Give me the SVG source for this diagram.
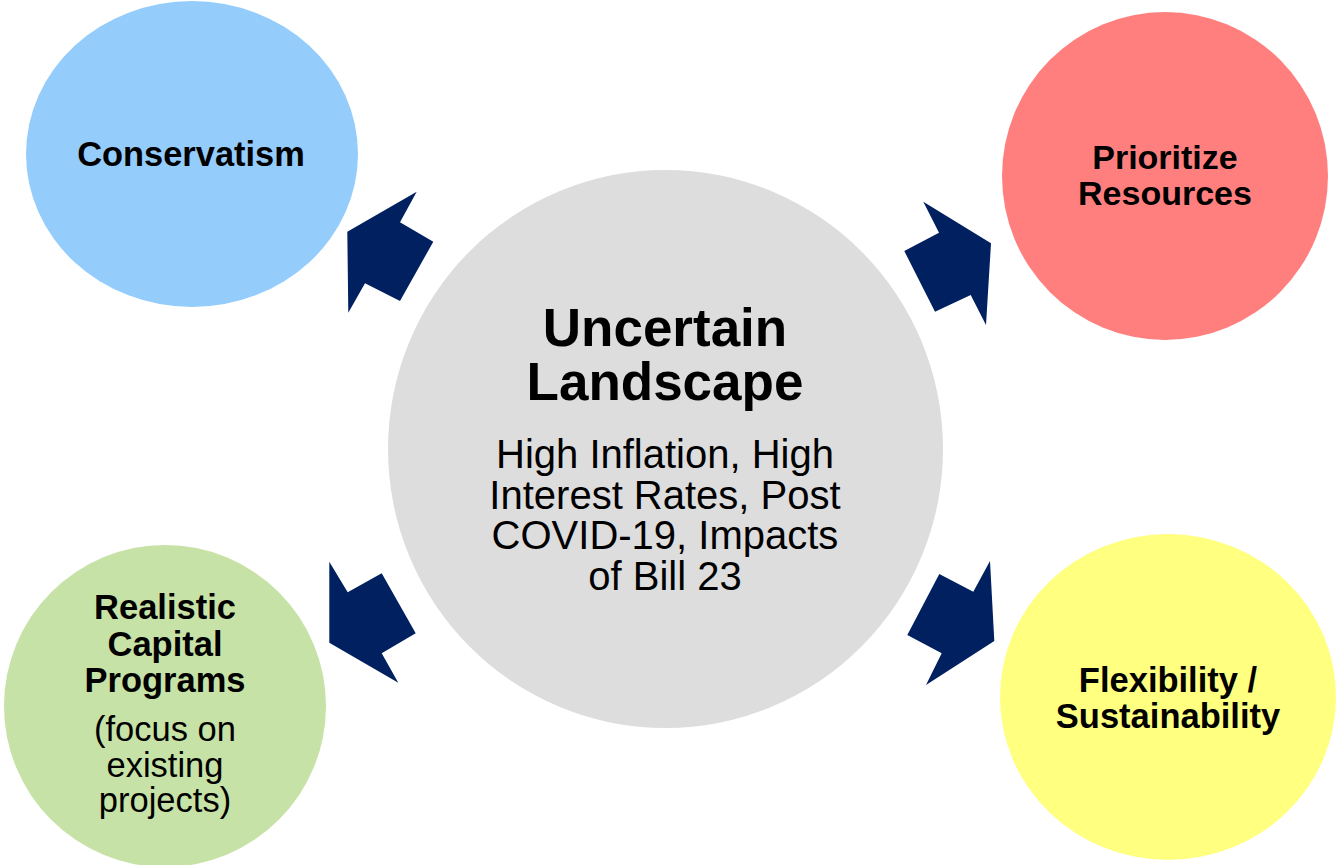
<svg xmlns="http://www.w3.org/2000/svg" width="1337" height="865" viewBox="0 0 1337 865">
<style>
.b{font-family:"Liberation Sans",Arial,sans-serif;font-weight:bold;fill:#000;text-anchor:middle}
.r{font-family:"Liberation Sans",Arial,sans-serif;fill:#000;text-anchor:middle}
.arr{fill:#002060}
</style>
<rect width="1337" height="865" fill="#ffffff"/>
<g id="conservatism">
<ellipse cx="192" cy="154" rx="166" ry="153" fill="#94CCFC"/>
<text class="b" x="191" y="166" font-size="34.4">Conservatism</text>
</g>
<g id="prioritize">
<ellipse cx="1165" cy="176" rx="163" ry="164" fill="#FF7F7E"/>
<text class="b" x="1165" y="169" font-size="34">Prioritize</text>
<text class="b" x="1165" y="205" font-size="34">Resources</text>
</g>
<g id="realistic">
<ellipse cx="165" cy="706" rx="161" ry="161" fill="#C7E2A6"/>
<text class="b" x="165" y="619" font-size="34.5">Realistic</text>
<text class="b" x="165" y="656" font-size="34.5">Capital</text>
<text class="b" x="165" y="692" font-size="34.5">Programs</text>
<text class="r" x="165" y="741" font-size="34.5">(focus on</text>
<text class="r" x="165" y="777" font-size="34.5">existing</text>
<text class="r" x="165" y="812" font-size="34.5">projects)</text>
</g>
<g id="flexibility">
<ellipse cx="1168" cy="697" rx="168" ry="163" fill="#FFFF80"/>
<text class="b" x="1168" y="692" font-size="34.5">Flexibility /</text>
<text class="b" x="1168" y="728" font-size="34.5">Sustainability</text>
</g>
<g id="uncertain">
<ellipse cx="665.5" cy="449" rx="277.5" ry="279" fill="#DDDDDD"/>
<text class="b" x="665" y="346" font-size="53">Uncertain</text>
<text class="b" x="665" y="400" font-size="53">Landscape</text>
<text class="r" x="665" y="468" font-size="40">High Inflation, High</text>
<text class="r" x="665" y="509" font-size="40">Interest Rates, Post</text>
<text class="r" x="665" y="549" font-size="40">COVID-19, Impacts</text>
<text class="r" x="665" y="590" font-size="40">of Bill 23</text>
</g>
<g id="connectors">
<polygon class="arr" points="416.7,191.7 400,222.3 433.3,241.7 400,301 365,283.3 348.3,312.7 347.3,231.7"/>
<polygon class="arr" points="923.3,201.7 939,232.7 904.3,251 935,311.7 970.7,295 986,325 991,243.3"/>
<polygon class="arr" points="329.3,561.7 347.7,592.3 381.7,573.3 415.7,633.3 381.7,653.3 398.3,682.7 329.3,642.7"/>
<polygon class="arr" points="990,561 973.3,591.7 939.3,574 907.3,635 941.7,653.3 926,685 994.3,641"/>
</g>
</svg>
